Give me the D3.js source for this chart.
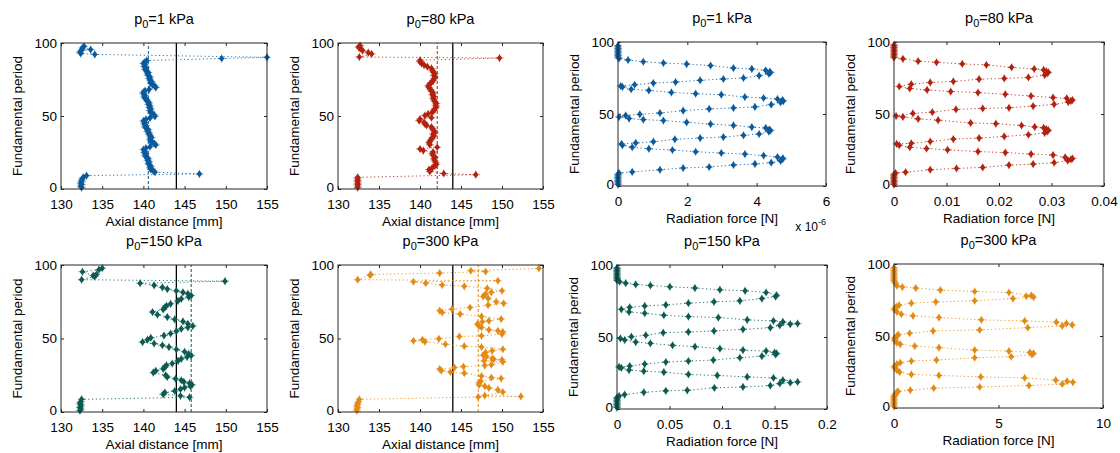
<!DOCTYPE html>
<html>
<head>
<meta charset="utf-8">
<script src="https://cdn.jsdelivr.net/npm/d3@7"></script>
<style>
    body { margin: 0; background: #fff; }
    svg text { font-family: "Liberation Sans", Arial, sans-serif; font-size: 13.5px; fill: #000; }
</style>
</head>
<body>
<div id="chart"></div>
<script>

// ---------- data ----------
const pressures = ["1", "80", "150", "300"];
const colors = ["#0a5a9c", "#b3220f", "#0b5b53", "#e38a12"];
const periodTicks = [0, 50, 100];
const axialTicks = [130, 135, 140, 145, 150, 155];
const focalAxial = 144.0;                         // solid black line
const meanAxial = [140.6, 142.1, 145.8, 147.1];   // dashed coloured line
const forceTicks1 = [0, 2, 4, 6];                 // x 10^-6 N
const forceTicks80 = [0, 0.01, 0.02, 0.03, 0.04];
const forceTicks150 = [0, 0.05, 0.1, 0.15, 0.2];
const forceTicks300 = [0, 5, 10];

// [axial distance mm, period]
const axial1 = [[132.5,1],[132.4,2],[132.5,3],[132.4,4],[132.5,5],[132.5,6],[132.6,7],[132.7,8],[133.1,9.2],
    [146.8,10.3],[141.4,11.5],[141.2,12.4],[140.9,13.4],[140.8,14.5],[140.9,15.6],[140.7,16.6],[140.6,17.6],[140.7,18.7],
    [140.5,19.7],[140.6,20.8],[140.4,21.8],[140.2,22.8],[140.3,23.9],[140.1,24.9],[140.2,25.9],[140.0,27.0],[140.3,28.0],
    [140.8,29.0],[141.5,30.2],[141.3,31.2],[141.0,32.2],[140.9,33.2],[140.8,34.3],[141.0,35.3],[140.8,36.3],[140.7,37.4],
    [140.7,38.4],[140.5,39.4],[140.6,40.5],[140.4,41.5],[140.2,42.5],[140.3,43.5],[140.1,44.6],[140.2,45.6],[140.0,46.6],
    [140.3,47.7],[140.8,48.7],[141.4,49.8],[141.3,50.8],[141.0,51.8],[140.9,52.8],[140.8,53.8],[140.9,54.9],[140.7,55.9],
    [140.8,56.9],[140.6,58.0],[140.7,59.0],[140.5,60.0],[140.4,61.1],[140.2,62.1],[140.1,63.1],[140.2,64.2],[140.0,65.2],
    [140.0,66.3],[140.2,67.3],[140.7,68.3],[141.5,69.5],[141.4,70.5],[141.1,71.5],[140.9,72.5],[141.0,73.6],[140.8,74.6],
    [140.7,75.7],[140.8,76.7],[140.6,77.7],[140.5,78.8],[140.6,79.8],[140.4,80.8],[140.2,81.9],[140.3,82.9],[140.1,83.9],
    [140.2,85.0],[140.0,86.0],[140.2,87.0],[140.4,88.0],[149.5,89.4],[155.0,90.2],[134.1,92.2],[132.4,92.8],[132.3,93.8],
    [132.5,95.0],[133.6,95.5],[132.6,96.6],[132.8,97.7]];

const axial80 = [[132.4,1],[132.4,2],[132.4,3],[132.4,4],[132.4,5],[132.4,6],[132.4,7],[132.4,8],
    [146.8,9.8],[142.9,10.6],[141.2,12.0],[141.1,13.3],[141.5,14.5],[141.8,15.8],[142.0,17.0],[141.9,18.2],[141.8,19.4],
    [141.7,20.6],[141.8,21.8],[141.6,23.0],[141.5,24.2],[141.6,25.3],[140.4,26.3],[140.0,27.4],[142.1,28.6],[141.2,30.3],
    [141.1,31.6],[141.2,32.8],[141.4,34.0],[141.5,35.2],[141.7,36.4],[141.6,37.6],[141.8,38.8],[141.7,40.0],[141.5,41.2],
    [141.4,42.4],[140.8,43.6],[140.6,44.6],[140.5,45.6],[139.9,46.8],[140.0,47.9],[141.4,48.8],[140.6,50.3],[141.0,51.4],
    [141.5,52.6],[141.7,53.8],[141.8,55.0],[142.0,56.2],[141.9,57.4],[142.0,58.6],[141.8,59.8],[141.7,61.0],[141.6,62.2],
    [141.7,63.4],[141.5,64.6],[141.6,65.8],[141.4,67.0],[141.3,68.2],[141.1,69.4],[141.0,70.6],[141.2,71.8],[141.4,73.0],
    [141.6,74.2],[141.7,75.4],[141.8,76.6],[141.7,77.8],[141.8,79.0],[141.6,80.2],[141.5,81.4],[141.4,82.6],[140.9,83.8],
    [140.5,84.9],[140.2,86.0],[140.0,87.2],[140.0,88.2],[149.7,89.7],[132.6,90.4],[134.1,92.5],[133.7,93.4],[133.0,94.8],
    [132.7,96.2],[132.5,97.2],[132.7,98.2]];

const axial150 = [[132.3,1],[132.4,2],[132.3,3],[132.4,4],[132.4,5],[132.3,6],[132.4,7],[132.5,8.6],
    [145.6,10.0],[144.5,11.0],[142.4,12.0],[142.6,13.2],[143.8,14.3],[144.5,15.5],[145.0,16.6],[145.7,17.6],[145.9,18.5],
    [145.6,19.5],[144.9,20.5],[144.6,21.6],[143.9,22.6],[142.9,23.8],[142.7,25.0],[141.2,26.8],[141.5,28.0],[142.4,29.4],
    [142.6,30.5],[142.8,31.8],[143.5,33.0],[144.2,34.8],[144.6,36.2],[145.3,37.4],[145.8,38.4],[145.5,39.5],[145.0,41.0],
    [144.0,42.6],[143.1,44.2],[142.3,45.4],[141.3,46.6],[139.9,47.6],[140.5,49.2],[140.9,50.5],[142.5,52.0],[143.3,53.4],
    [144.0,55.0],[144.6,56.6],[145.4,57.6],[146.0,58.5],[145.4,60.0],[144.8,61.6],[143.8,63.0],[142.9,64.6],[141.7,66.2],
    [141.1,68.0],[142.4,69.8],[142.6,71.2],[142.8,72.2],[143.3,73.6],[144.2,75.6],[144.6,77.0],[145.5,78.2],[145.8,79.2],
    [145.4,80.4],[144.8,81.4],[144.0,82.4],[142.9,83.6],[142.3,84.8],[141.3,86.2],[139.6,87.6],[149.9,89.0],[132.5,90.0],
    [134.1,92.2],[134.3,93.6],[133.9,92.8],[132.6,95.4],[134.6,96.8],[135.0,97.8]];

const axial300 = [[132.3,1],[132.3,2],[132.4,3],[132.3,4],[132.4,5],[132.4,6],[132.5,7],[132.6,8.6],
    [147.1,10.2],[152.3,10.6],[147.9,11.2],[150.1,13.6],[149.5,15.0],[148.4,16.4],[147.9,17.6],[147.2,18.4],[147.2,19.8],
    [147.4,21.0],[149.9,22.8],[148.7,23.4],[147.5,24.5],[145.4,26.4],[143.7,27.2],[142.6,28.2],[142.4,29.2],[144.2,30.2],
    [145.3,30.9],[147.9,31.6],[148.7,32.2],[150.1,34.1],[147.8,34.8],[150.0,35.5],[149.0,35.9],[148.8,36.4],[148.1,37.7],
    [147.7,38.6],[148.0,40.5],[148.8,41.6],[150.1,42.7],[147.5,44.2],[145.4,44.8],[143.1,46.1],[140.6,47.8],[139.2,48.4],
    [140.3,49.2],[142.3,49.8],[144.8,51.4],[147.5,51.8],[150.0,53.0],[150.1,54.5],[149.5,55.2],[148.4,55.9],[147.5,57.5],
    [147.2,58.6],[147.0,59.8],[147.6,61.4],[148.4,62.0],[149.9,63.2],[147.5,65.0],[144.9,66.6],[142.7,67.7],[142.4,68.9],
    [143.9,70.0],[146.1,71.1],[148.3,72.7],[150.2,73.9],[149.3,75.0],[148.3,77.3],[147.7,78.6],[148.0,80.2],[148.7,81.4],
    [150.0,82.5],[148.2,84.1],[145.4,85.5],[142.7,86.4],[140.7,87.7],[139.2,88.6],[149.5,89.3],[132.4,90.0],[133.9,93.0],
    [134.0,93.6],[142.4,94.5],[148.0,95.5],[146.2,96.1],[154.5,97.7]];

// [radiation force, period]; 1 kPa values are in units of 1e-6 N
const force1 = [[0,1],[0,2],[0,3],[0,4],[0,5],[0,6],[0,7],[0,8],[0.03,9],
    [0.41,9.8],[1.21,11.3],[1.88,12.5],[2.63,13.2],[3.33,14.6],[3.95,15.3],[4.42,16.2],[4.69,17.5],[4.74,18.6],[4.76,19.2],
    [4.6,20.1],[4.2,21.1],[3.66,22.2],[2.98,22.9],[2.24,23.8],[1.57,25],[0.89,25.9],[0.41,26.9],[0.13,28.3],[0.1,29.2],
    [0.51,29.9],[1.02,30.8],[1.64,32.4],[2.37,33.3],[3.04,34],[3.62,35.2],[4.07,36.1],[4.35,37.8],[4.4,38.6],[4.36,39.2],
    [4.26,40.3],[3.86,40.9],[3.33,42.1],[2.67,43],[1.98,44.2],[1.31,45.4],[0.73,46.1],[0.32,46.8],[0.03,47.9],[0.22,49],
    [0.63,49.8],[1.21,50.7],[1.88,52.3],[2.63,53.5],[3.33,54.2],[3.95,54.9],[4.42,56.5],[4.69,58.1],[4.77,59],[4.74,59.6],
    [4.6,60.4],[4.2,61.1],[3.66,61.8],[2.98,63.4],[2.24,64.1],[1.54,65],[0.89,66.4],[0.38,67.2],[0.13,68.8],[0.08,69.4],
    [0.48,70.3],[1.02,71.5],[1.66,72.2],[2.37,73.4],[3.04,74.3],[3.62,75],[4.07,76.6],[4.35,78],[4.4,78.8],[4.38,79.3],
    [4.26,80.3],[3.86,81.3],[3.33,81.9],[2.67,83.6],[1.98,84.7],[1.31,85.4],[0.73,86.3],[0.29,87.5],[0.03,88.6],
    [0,89.5],[0,90.5],[0,91.5],[0,92.5],[0,93.5],[0,94.5],[0,95.5],[0,96.5],[0,97.5]];

const force80 = [[0,1],[0,2],[0,3],[0,4],[0,5],[0,6],[0,7],[0,8],[0.0003,9],
    [0.0022,9.6],[0.0069,11.3],[0.0119,12.2],[0.0169,12.9],[0.0219,14.5],[0.0265,15.2],[0.0305,16.2],[0.0331,17.6],[0.0337,18.5],[0.034,19.1],
    [0.0326,19.9],[0.0303,21.5],[0.0261,22.2],[0.0212,23.2],[0.016,23.9],[0.0102,25.1],[0.0062,26],[0.003,26.9],[0.001,28.3],[0.0005,29.2],
    [0.0033,29.7],[0.0069,30.9],[0.0113,32.6],[0.0162,33.3],[0.021,34.4],[0.0256,35.6],[0.0287,36.8],[0.0292,37.9],[0.0294,38.8],[0.029,39.5],
    [0.0285,40.4],[0.0268,41],[0.0243,42],[0.0194,43.3],[0.0146,43.8],[0.0084,45.7],[0.0046,46.6],[0.0017,48],[0.0004,48.6],
    [0.0036,50.4],[0.0073,51.3],[0.0118,53.2],[0.0169,53.9],[0.0219,54.3],[0.0265,55.5],[0.0305,56.7],[0.0332,58.3],[0.0337,59.1],[0.034,59.7],
    [0.0329,60.9],[0.0303,61.4],[0.0261,62.5],[0.0212,63.7],[0.016,64.9],[0.0108,65.6],[0.0063,66.7],[0.003,67.7],[0.001,69.1],
    [0.0033,70.7],[0.0069,71.9],[0.0113,72.6],[0.0162,74.2],[0.021,74.7],[0.0256,75.4],[0.0287,77],[0.0292,78.3],[0.0294,79],[0.029,79.6],
    [0.0285,80.6],[0.0267,81.3],[0.0224,82.4],[0.0176,84.1],[0.013,84.8],[0.0081,85.9],[0.0046,86.7],[0.0017,88.3],
    [0,89.2],[0,90.2],[0,91.2],[0,92.2],[0,93.2],[0,94.2],[0,95.2],[0,96.2],[0,97.2],[0,98]];

const force150 = [[0,1],[0,2],[0,3],[0,4],[0,5],[0,6],[0,7],[0,8],[0.002,9],
    [0.0073,10],[0.0255,11.6],[0.0465,12.6],[0.0669,13],[0.0927,14.7],[0.12,15.3],[0.146,16.3],[0.155,17.7],[0.165,18.3],[0.172,18.8],
    [0.158,20],[0.149,21.6],[0.124,22.3],[0.0955,23.3],[0.068,24],[0.0446,25.6],[0.0255,26.3],[0.0115,27],[0.0041,28.6],[0.002,29.2],
    [0.0121,29.8],[0.0264,31.2],[0.0465,32.6],[0.068,33.3],[0.0917,34],[0.117,35.6],[0.138,36.7],[0.151,37.9],[0.152,38.6],[0.15,39.2],
    [0.142,40.2],[0.12,40.9],[0.098,41.9],[0.0742,43.3],[0.0529,44.2],[0.0318,45.6],[0.0178,46.5],[0.0073,47.9],[0.0032,49],
    [0.0137,50.2],[0.0274,51.2],[0.044,53],[0.068,53.5],[0.0924,54.2],[0.12,55.3],[0.146,56.5],[0.155,58.1],[0.165,58.9],[0.172,59.3],
    [0.158,60.5],[0.149,61.2],[0.124,61.9],[0.0965,63.5],[0.068,64.2],[0.0446,65.1],[0.0264,66.5],[0.0115,67.4],[0.0041,69.2],
    [0.0121,70.6],[0.0264,71.6],[0.0465,72.3],[0.068,73.5],[0.0924,74.4],[0.117,75.1],[0.138,76.7],[0.151,78.1],[0.152,79],
    [0.142,80.9],[0.122,82.1],[0.098,82.8],[0.0742,84],[0.0503,84.9],[0.0318,85.8],[0.0178,86.5],[0.0083,87.4],[0.0025,88.4],
    [0,89.3],[0,90.3],[0,91.3],[0,92.3],[0,93.3],[0,94.3],[0,95.3],[0,96.3],[0,97.3],[0,98]];

const force300 = [[0,1],[0,2],[0,3],[0,4],[0,5],[0,6],[0,7],[0,8],[0.03,9],[0.08,10],
    [0.14,10.8],[0.19,11.6],[0.78,12.4],[1.9,13.8],[4.1,14.6],[6.46,15.6],[8.05,16.6],[8.56,17.8],[8.28,18.6],[7.74,19.3],
    [6.25,20.9],[4.15,21.6],[2.15,22.6],[0.83,23.3],[0.27,24.9],[0.14,26.3],[0.03,27.9],[0.02,29.0],
    [0.14,30.5],[0.3,31.5],[0.83,32.6],[2.03,33.3],[3.86,34.9],[5.61,35.6],[6.6,37.2],[6.68,37.9],[6.5,38.6],
    [5.5,39.5],[3.86,40.2],[2.15,41.9],[0.99,43],[0.3,44.2],[0.14,45.3],[0.05,46.5],[0.03,47.4],[0.02,48.6],
    [0.14,50],[0.2,50.9],[0.75,51.9],[1.87,53.5],[4.1,54.2],[6.4,55.8],[8.05,57],[8.53,57.7],[8.25,58.8],[7.77,59.6],
    [6.25,60.5],[4.18,61.2],[2.15,62.8],[0.91,64],[0.35,65.1],[0.14,66.7],[0.03,68.1],[0.02,69],
    [0.11,70.5],[0.24,71.4],[0.83,72.8],[2.0,73.7],[3.86,74.4],[5.69,76],[6.68,76.9],[6.33,77.6],[6.57,78.2],
    [5.5,80.2],[3.86,80.9],[2.22,81.9],[1.04,83.3],[0.4,84],[0.14,84.9],[0.08,86.5],[0.03,87.4],
    [0,88.5],[0,89.5],[0,90.5],[0,91.5],[0,92.5],[0,93.5],[0,94.5],[0,95.5],[0,96.5],[0,97.5]];

// ---------- layout ----------
const width = 1120, height = 453;

const panels = [
    {box: [61, 43, 206, 146],  series: 0, data: axial1,   ticks: axialTicks,    axial: true},
    {box: [338, 43, 205, 146], series: 1, data: axial80,  ticks: axialTicks,    axial: true},
    {box: [618, 42, 208, 144], series: 0, data: force1,   ticks: forceTicks1,   axial: false, expo: "-6"},
    {box: [894, 42, 210, 144], series: 1, data: force80,  ticks: forceTicks80,  axial: false},
    {box: [61, 265, 206, 147], series: 2, data: axial150, ticks: axialTicks,    axial: true},
    {box: [338, 265, 205, 147],series: 3, data: axial300, ticks: axialTicks,    axial: true},
    {box: [617, 265, 210, 144],series: 2, data: force150, ticks: forceTicks150, axial: false},
    {box: [894, 264, 209, 144],series: 3, data: force300, ticks: forceTicks300, axial: false}
];

const svg = d3.select("#chart").append("svg")
    .attr("width", width)
    .attr("height", height);

const markerPath = "M0,-3.6L2.8,0L0,3.6L-2.8,0Z";
const crossPath = "M-4,0H4M0,-4V4";

panels.forEach(p => drawPanel(p));

function drawPanel(p) {
    let [left, top, w, h] = p.box;
    let color = colors[p.series];
    let fmt = d3.format("~g");

    let g = svg.append("g").attr("transform", `translate(${left},${top})`);

    let x = d3.scaleLinear().domain(d3.extent(p.ticks)).range([0, w]);
    let y = d3.scaleLinear().domain([0, 100]).range([h, 0]);

    // axes with inward ticks
    g.append("g").attr("transform", `translate(0,${h})`)
        .call(d3.axisBottom(x).tickValues(p.ticks).tickSizeInner(-3).tickSizeOuter(0).tickPadding(10).tickFormat(fmt))
        .call(a => a.select(".domain").remove());
    g.append("g")
        .call(d3.axisTop(x).tickValues(p.ticks).tickSizeInner(-3).tickSizeOuter(0).tickFormat(""))
        .call(a => a.select(".domain").remove());
    g.append("g")
        .call(d3.axisLeft(y).tickValues(periodTicks).tickSizeInner(-3).tickSizeOuter(0).tickPadding(4).tickFormat(fmt))
        .call(a => a.select(".domain").remove())
        .call(a => a.selectAll(".tick text").attr("dy", d => d === 0 ? "0.2em" : "0.32em"));
    g.append("g").attr("transform", `translate(${w},0)`)
        .call(d3.axisRight(y).tickValues(periodTicks).tickSizeInner(-3).tickSizeOuter(0).tickFormat(""))
        .call(a => a.select(".domain").remove());

    g.selectAll(".tick line").attr("stroke", "#262626");
    g.selectAll(".tick text").style("font-size", "13.5px").attr("fill", "#000");

    // reference lines on the axial panels
    if (p.axial) {
        g.append("line")
            .attr("x1", x(meanAxial[p.series])).attr("x2", x(meanAxial[p.series]))
            .attr("y1", y(0)).attr("y2", y(100))
            .attr("stroke", color).attr("stroke-width", 1)
            .attr("stroke-dasharray", "3,2");
        g.append("line")
            .attr("x1", x(focalAxial)).attr("x2", x(focalAxial))
            .attr("y1", y(0)).attr("y2", y(100))
            .attr("stroke", "#000").attr("stroke-width", 1.3);
    }

    // dotted trace
    let line = d3.line().x(d => x(d[0])).y(d => y(d[1]));
    g.append("path")
        .datum(p.data)
        .attr("d", line)
        .attr("fill", "none")
        .attr("stroke", color)
        .attr("stroke-opacity", 0.85)
        .attr("stroke-width", 1)
        .attr("stroke-dasharray", "1.2,2.6");

    // markers
    let marks = g.selectAll(".mark")
        .data(p.data)
        .enter().append("g")
        .attr("class", "mark")
        .attr("transform", d => `translate(${x(d[0])},${y(d[1])})`);
    marks.append("path").attr("d", crossPath).attr("stroke", color).attr("stroke-width", 1).attr("stroke-opacity", 0.55);
    marks.append("path").attr("d", markerPath).attr("fill", color);

    // frame
    g.append("rect")
        .attr("width", w).attr("height", h)
        .attr("fill", "none")
        .attr("stroke", "#262626")
        .attr("stroke-width", 1);

    // title with subscript
    let title = g.append("text")
        .attr("x", w / 2).attr("y", -19)
        .attr("text-anchor", "middle")
        .style("font-size", "14.5px");
    title.append("tspan").text("p");
    title.append("tspan").attr("dy", 4).style("font-size", "11px").text("0");
    title.append("tspan").attr("dy", -4).text("=" + pressures[p.series] + " kPa");

    // axis labels
    g.append("text")
        .attr("x", w / 2).attr("y", h + 37)
        .attr("text-anchor", "middle")
        .text(p.axial ? "Axial distance [mm]" : "Radiation force [N]");
    g.append("text")
        .attr("transform", `translate(-39,${h / 2}) rotate(-90)`)
        .attr("text-anchor", "middle")
        .text("Fundamental period");

    // axis exponent, right-aligned under the end of the x axis
    if (p.expo) {
        let ex = g.append("text")
            .attr("x", w).attr("y", h + 45)
            .attr("text-anchor", "end")
            .style("font-size", "12px");
        ex.append("tspan").text("x 10");
        ex.append("tspan").attr("dy", -6).style("font-size", "9px").text(p.expo);
    }
}
</script>
</body>
</html>
